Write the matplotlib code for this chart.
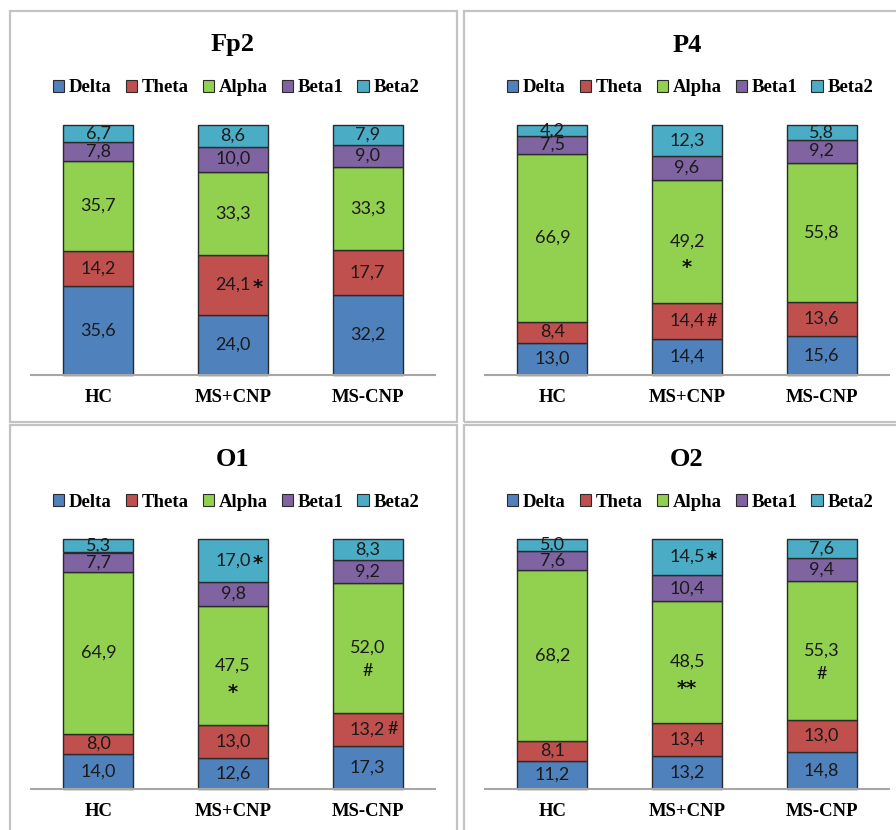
import matplotlib
matplotlib.use('Agg')
import matplotlib.pyplot as plt
from matplotlib.patches import Patch, Rectangle
import numpy as np

groups = ['HC', 'MS+CNP', 'MS-CNP']
bands = ['Delta', 'Theta', 'Alpha', 'Beta1', 'Beta2']
band_colors = ['#4F81BD', '#C0504D', '#92D050', '#8064A2', '#4BACC6']

# relative power (%), rows follow bands, columns follow groups
fp2 = [[35.6, 24.0, 32.2], [14.2, 24.1, 17.7], [35.7, 33.3, 33.3], [7.8, 10.0, 9.0], [6.7, 8.6, 7.9]]
p4 = [[13.0, 14.4, 15.6], [8.4, 14.4, 13.6], [66.9, 49.2, 55.8], [7.5, 9.6, 9.2], [4.2, 12.3, 5.8]]
o1 = [[14.0, 12.6, 17.3], [8.0, 13.0, 13.2], [64.9, 47.5, 52.0], [7.7, 9.8, 9.2], [5.3, 17.0, 8.3]]
o2 = [[11.2, 13.2, 14.8], [8.1, 13.4, 13.0], [68.2, 48.5, 55.3], [7.6, 10.4, 9.4], [5.0, 14.5, 7.6]]

# significance marks: (group, band, symbol, where)
fp2_marks = [(1, 1, '*', 'right')]
p4_marks = [(1, 2, '*', 'below'), (1, 1, '#', 'right')]
o1_marks = [(1, 4, '*', 'right'), (1, 2, '*', 'below'), (2, 2, '#', 'below'), (2, 1, '#', 'right')]
o2_marks = [(1, 4, '*', 'right'), (1, 2, '**', 'below'), (2, 2, '#', 'below')]

W, H = 896, 830
fig = plt.figure(figsize=(W / 100, H / 100), dpi=100)
fig.patch.set_facecolor('white')

serif = 'Liberation Serif'
label_font = 'Lato'


def fx(x):
    return x / W


def fy(y):
    return 1 - y / H


panels = [
    ('Fp2', fp2, fp2_marks, 0, 0),
    ('P4', p4, p4_marks, 454, 0),
    ('O1', o1, o1_marks, 0, 414),
    ('O2', o2, o2_marks, 454, 414),
]

handles = [Patch(facecolor=c, edgecolor='#2b2b2b', lw=0.8) for c in band_colors]

for title, vals, marks, ox, oy in panels:
    # grey frame round each chart
    fig.patches.append(Rectangle((fx(10 + ox), fy(422 + oy)), 447 / W, 411 / H,
                                 transform=fig.transFigure, fill=False,
                                 edgecolor='#c3c3c3', lw=1.6))
    ax = fig.add_axes([fx(31 + ox), fy(375 + oy), 404 / W, 250 / H])
    x = np.arange(len(groups))
    bottom = np.zeros(len(groups))
    for i, band in enumerate(bands):
        v = np.array(vals[i])
        ax.bar(x, v, 0.52, bottom=bottom, color=band_colors[i],
               edgecolor='#2b2b2b', lw=1.0, clip_on=False)
        for j in range(len(groups)):
            ax.text(x[j], bottom[j] + v[j] / 2, f'{v[j]:.1f}'.replace('.', ','),
                    ha='center', va='center', fontsize=13, family=label_font,
                    color='#1a1a1a')
        bottom += v

    starts = np.cumsum([[0, 0, 0]] + vals, axis=0)
    for g, b, sym, where in marks:
        yc = starts[b][g] + vals[b][g] / 2
        if sym == '#':
            style = dict(fontsize=13, family=label_font, weight='normal')
            dy = 0
        else:
            style = dict(fontsize=14, family='DejaVu Sans', weight='bold')
            dy = -2
        if where == 'right':
            off = (18, dy)
        else:
            off = (0, -17 + dy)
        ax.annotate(sym, (x[g], yc), xytext=off, textcoords='offset points',
                    ha='center', va='center', color='#111111', **style)

    ax.set_xlim(-0.5, 2.5)
    ax.set_ylim(0, 100)
    for s in ['top', 'left', 'right']:
        ax.spines[s].set_visible(False)
    ax.spines['bottom'].set_color('#a6a6a6')
    ax.spines['bottom'].set_linewidth(1.5)
    ax.set_yticks([])
    ax.set_xticks(x)
    ax.set_xticklabels(groups, family=serif, weight='bold', fontsize=13.5)
    ax.tick_params(axis='x', length=0, pad=10)

    fig.text(fx(233 + ox), fy(45 + oy), title, ha='center', va='center',
             fontsize=19, family=serif, weight='bold')
    ax.legend(handles, bands, loc='center', bbox_to_anchor=(fx(236 + ox), fy(88 + oy)),
              bbox_transform=fig.transFigure, ncol=5, frameon=False,
              prop={'family': serif, 'weight': 'bold', 'size': 13.5},
              handlelength=0.6, handleheight=0.6, handletextpad=0.25,
              columnspacing=0.75, borderaxespad=0)

fig.savefig('out.png', dpi=100, facecolor='white')
